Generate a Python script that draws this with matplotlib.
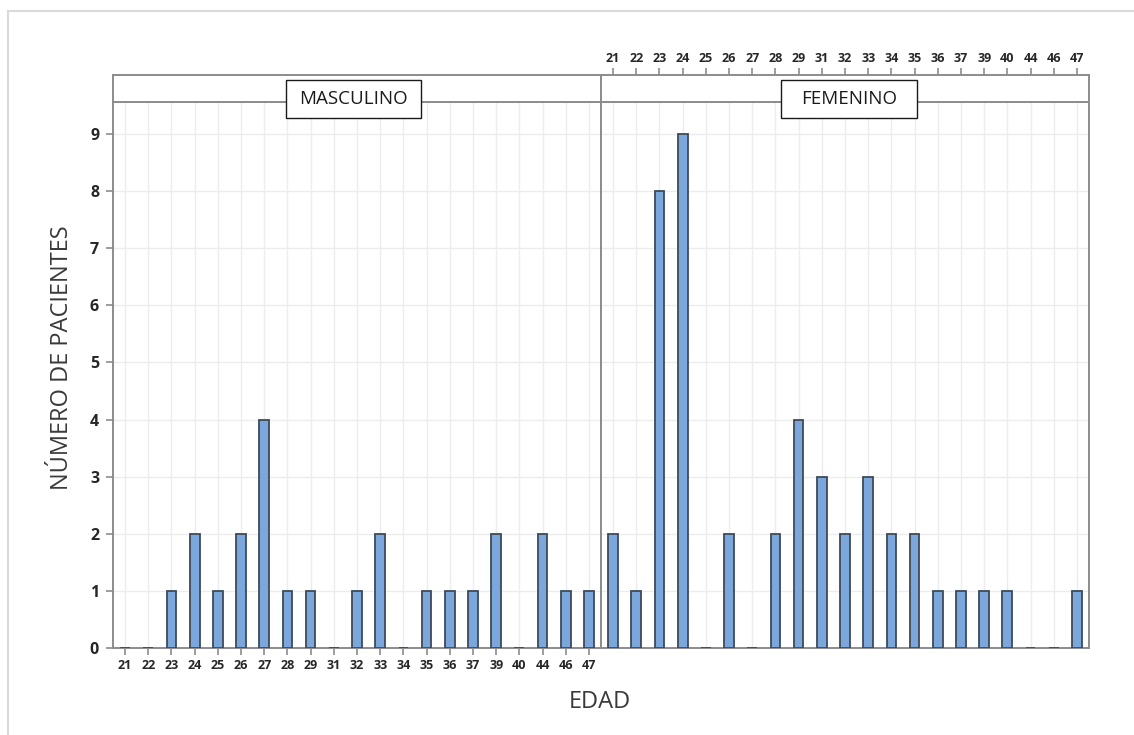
import matplotlib
matplotlib.use("Agg")
import matplotlib.pyplot as plt
from matplotlib.patches import Rectangle

plt.rcParams['font.family'] = ['Open Sans', 'DejaVu Sans']

# ---- data ----
edades = ['21', '22', '23', '24', '25', '26', '27', '28', '29', '31', '32',
          '33', '34', '35', '36', '37', '39', '40', '44', '46', '47']
masculino = [0, 0, 1, 2, 1, 2, 4, 1, 1, 0, 1, 2, 0, 1, 1, 1, 2, 0, 2, 1, 1]
femenino = [2, 1, 8, 9, 0, 2, 0, 2, 4, 3, 2, 3, 2, 2, 1, 1, 1, 1, 0, 0, 1]
paneles = ['MASCULINO', 'FEMENINO']
y_ticks = list(range(10))
x_label = 'EDAD'
y_label = 'NÚMERO DE PACIENTES'

W, H = 1134, 735
fig = plt.figure(figsize=(W / 100, H / 100), dpi=100)
fig.patch.set_facecolor('white')


def fx(px):
    return px / W


def fy(py):
    return 1 - py / H


SPINE = '#8c8c8c'
BAR_FC = '#7ba7dd'
BAR_EC = '#3d4a58'
GRID = '#ececec'
TXT = '#262626'

# faint outer frame (top and left visible)
fig.add_artist(Rectangle((fx(8), -0.2), 2.0, fy(11) + 0.2, transform=fig.transFigure,
                         fill=False, ec='#dadada', lw=1.5, zorder=0))

panel_left = [113, 601]
panel_w = 488
top_data = 102
bottom_data = 648
strip_top = 75

x = list(range(len(edades)))
data = [masculino, femenino]

for i in range(2):
    ax = fig.add_axes([fx(panel_left[i]), fy(bottom_data), fx(panel_w),
                       (bottom_data - top_data) / H])
    ax.bar(x, data[i], width=0.42, color=BAR_FC, edgecolor=BAR_EC, linewidth=1.3, zorder=3)
    ax.set_xlim(-0.52, 20.52)
    ax.set_ylim(0, 9.56)
    ax.set_xticks(x)
    ax.set_yticks(y_ticks)
    ax.grid(True, color=GRID, linewidth=1.0, zorder=0)
    for s in ax.spines.values():
        s.set_color(SPINE)
        s.set_linewidth(1.4)
    if i == 0:
        ax.set_xticklabels(edades, fontsize=9, fontweight='bold', color=TXT)
        ax.set_yticklabels([str(v) for v in y_ticks], fontsize=11.5, fontweight='bold', color=TXT)
        ax.tick_params(axis='x', length=5, color=SPINE, width=1.2, pad=3)
        ax.tick_params(axis='y', length=5, color=SPINE, width=1.2, pad=5)
    else:
        ax.tick_params(axis='both', length=0, labelbottom=False, labelleft=False)

    # strip
    sax = fig.add_axes([fx(panel_left[i]), fy(top_data), fx(panel_w),
                        (top_data - strip_top) / H])
    sax.set_xlim(-0.52, 20.52)
    sax.set_ylim(0, 1)
    sax.set_yticks([])
    for s in sax.spines.values():
        s.set_color(SPINE)
        s.set_linewidth(1.4)
    if i == 1:
        sax.xaxis.tick_top()
        sax.set_xticks(x)
        sax.set_xticklabels(edades, fontsize=9, fontweight='bold', color=TXT)
        sax.tick_params(axis='x', length=5, color=SPINE, width=1.2, pad=2)
    else:
        sax.set_xticks([])

# panel label boxes
boxes = [(286, 80, 135, 38), (781, 80, 136, 38)]
for (bx, by, bw, bh), name in zip(boxes, paneles):
    fig.add_artist(Rectangle((fx(bx), fy(by + bh)), fx(bw), bh / H, transform=fig.transFigure,
                             fc='white', ec='#1a1a1a', lw=1.0, zorder=10))
    fig.text(fx(bx + bw / 2), fy(by + bh / 2), name, ha='center', va='center',
             fontsize=13.5, color='#1a1a1a', zorder=11)

fig.text(fx(600), fy(702), x_label, ha='center', va='center', fontsize=17, color='#3a3a3a')
fig.text(fx(62), fy(358), y_label, ha='center', va='center', rotation=90,
         fontsize=17, color='#3a3a3a')

fig.savefig('out.png', dpi=100, facecolor='white')
